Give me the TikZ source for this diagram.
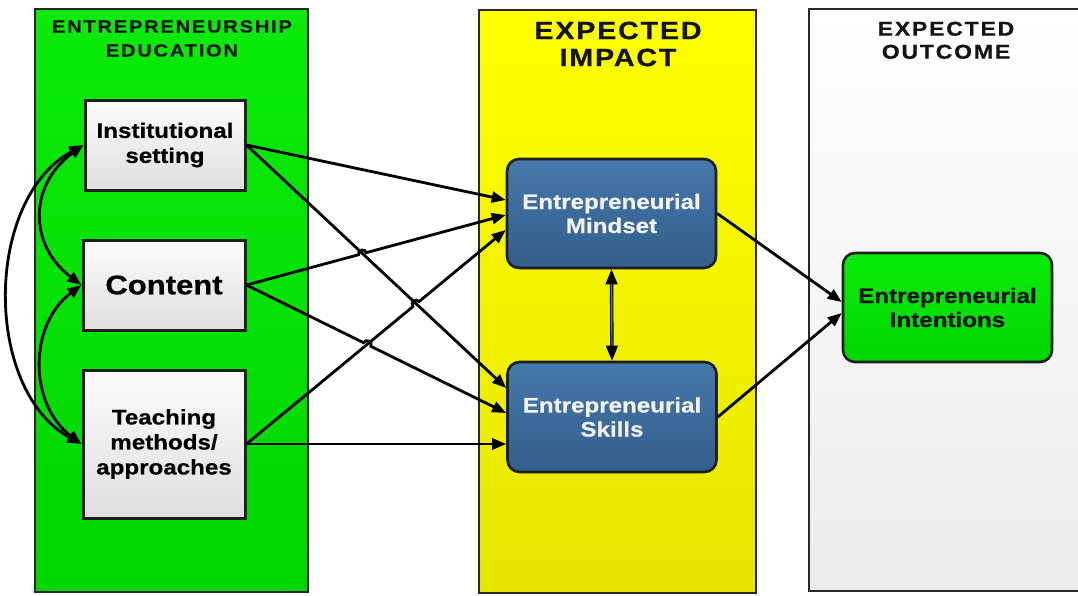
\documentclass[tikz,border=0pt]{standalone}
\usepackage{fontspec}
\setmainfont{Liberation Sans}[FakeStretch=1.15, BoldFeatures={FakeBold=0.6}]
\usetikzlibrary{arrows.meta,calc}

\definecolor{panelline}{RGB}{40,40,40}
\definecolor{boxline}{RGB}{30,30,30}
\definecolor{greenTop}{RGB}{10,235,10}
\definecolor{greenBot}{RGB}{0,215,0}
\definecolor{yellowTop}{RGB}{255,255,0}
\definecolor{yellowBot}{RGB}{230,230,0}
\definecolor{whiteBot}{RGB}{236,236,236}
\definecolor{grayTop}{RGB}{252,252,252}
\definecolor{grayBot}{RGB}{222,222,222}
\definecolor{blueTop}{RGB}{70,120,170}
\definecolor{blueBot}{RGB}{50,94,140}
\definecolor{headtext}{RGB}{20,20,20}
\definecolor{bluetext}{RGB}{242,242,242}

\begin{document}
\begin{tikzpicture}[x=1pt,y=-1pt,
  panel/.style={draw=panelline, line width=2.6pt},
  heading/.style={inner sep=0pt, align=center, text=headtext},
  edubox/.style={draw=boxline, line width=3pt, top color=grayTop, bottom color=grayBot,
    inner sep=0pt, align=center, text=black},
  impactbox/.style={draw=boxline, line width=2.6pt, rounded corners=12pt,
    top color=blueTop, bottom color=blueBot, minimum width=209pt, minimum height=109pt,
    inner sep=0pt, align=center, text=bluetext, font=\bfseries\fontsize{21}{24}\selectfont},
  outcomebox/.style={draw=boxline, line width=2.6pt, rounded corners=12pt,
    top color=greenTop, bottom color=greenBot, minimum width=209pt, minimum height=109pt,
    inner sep=0pt, align=center, text=headtext, font=\bfseries\fontsize{21}{24}\selectfont},
  arr/.style={line width=2.8pt, -{Triangle[length=14pt,width=11pt]}},
  darr/.style={line width=2.8pt, {Triangle[length=14pt,width=11pt]}-{Triangle[length=14pt,width=11pt]}},
  hop/.style={bend left=90, looseness=1.6}
]
% canvas
\fill[white] (0,0) rectangle (1078,595);
\useasboundingbox (0,0) rectangle (1078,595);

% three column panels
\shade[panel, top color=greenTop, bottom color=greenBot] (35,9) rectangle (308,592);
\shade[panel, top color=yellowTop, bottom color=yellowBot] (479,10) rectangle (756,593);
\shade[panel, top color=white, bottom color=whiteBot] (809,9) rectangle (1090,591);

% panel headings
\node[heading, font=\bfseries\fontsize{17.5}{24}\selectfont\addfontfeature{LetterSpace=10}]
  (hedu) at (172,38.5) {ENTREPRENEURSHIP\\EDUCATION};
\node[heading, font=\bfseries\fontsize{25}{27}\selectfont\addfontfeature{LetterSpace=7}]
  (himp) at (618,44) {EXPECTED\\IMPACT};
\node[heading, font=\bfseries\fontsize{20}{23}\selectfont\addfontfeature{LetterSpace=9}]
  (hout) at (946,40.3) {EXPECTED\\OUTCOME};

% education components
\node[edubox, minimum width=160pt, minimum height=90pt, font=\bfseries\fontsize{21}{25}\selectfont]
  (inst) at (165,145) {Institutional\\setting};
\node[edubox, minimum width=162pt, minimum height=90pt, font=\bfseries\fontsize{27}{30}\selectfont]
  (content) at (164,285) {Content};
\node[edubox, minimum width=162pt, minimum height=148pt, font=\bfseries\fontsize{21}{25}\selectfont]
  (teach) at (164,444) {Teaching\\methods/\\approaches};

% impact and outcome
\node[impactbox] (mind) at (611.5,213.5) {Entrepreneurial\\Mindset};
\node[impactbox, minimum height=110pt] (skills) at (612,417) {Entrepreneurial\\Skills};
\node[outcomebox] (intent) at (947.5,307.5) {Entrepreneurial\\Intentions};

% arrow end points on the receiving boxes
\coordinate (mA) at ($(mind.west)+(0,-13.5)$);
\coordinate (mB) at ($(mind.west)+(0,1.5)$);
\coordinate (mC) at ($(mind.west)+(0,16.5)$);
\coordinate (sA) at ($(skills.west)+(0,-29)$);
\coordinate (sD) at ($(skills.west)+(0,-4)$);
\coordinate (iM) at ($(intent.west)+(0,-5.5)$);
\coordinate (iS) at ($(intent.west)+(0,5.5)$);

% correlations among the education components
\draw[darr] (inst.west) .. controls +(-55,40) and +(-53,-40) .. (content.west);
\draw[darr] (content.west) .. controls +(-53,40) and +(-53,-40) .. (teach.west);
\draw[darr] (inst.west) .. controls +(-100,55) and +(-98,-54) .. (teach.west);

% education -> impact
\draw[arr] (inst.east) -- (mA);
\draw[arr] (inst.east) -- (sA);
\draw[arr] (content.east) -- ($(content.east)!0.4323!(mB)$)
  to[hop] ($(content.east)!0.4623!(mB)$) -- (mB);
\draw[arr] (content.east) -- ($(content.east)!0.4509!(sD)$)
  to[hop] ($(content.east)!0.4789!(sD)$) -- (sD);
\draw[arr] (teach.east) -- ($(teach.east)!0.6422!(mC)$)
  to[hop] ($(teach.east)!0.6662!(mC)$) -- (mC);
\draw[arr] (teach.east) -- (teach.east -| skills.west);

% mindset <-> skills
\draw[line width=1.1pt, double=yellowBot!55!black, double distance=1.2pt,
  {Triangle[length=15pt,width=12pt]}-{Triangle[length=15pt,width=12pt]}]
  (mind.south) -- (skills.north);

% impact -> outcome
\draw[arr] (mind.east) -- (iM);
\draw[arr] (skills.east) -- (iS);
\end{tikzpicture}
\end{document}
